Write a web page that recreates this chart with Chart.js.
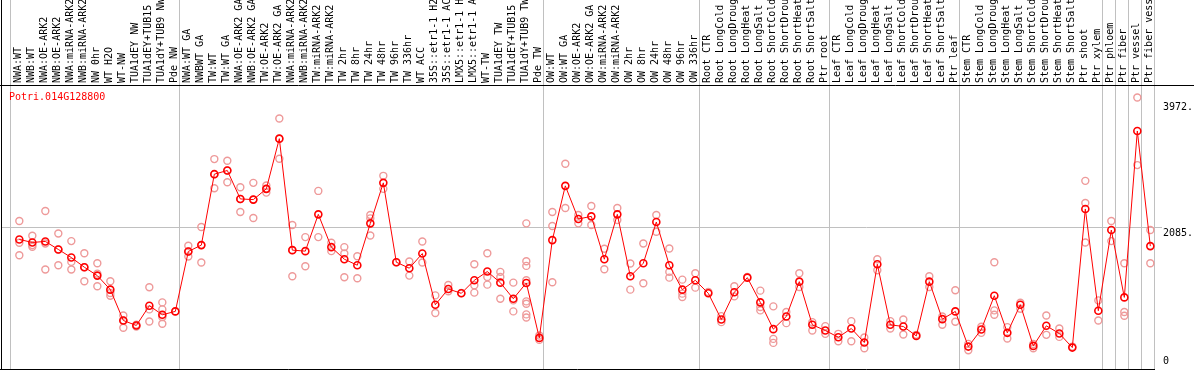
<!DOCTYPE html>
<html>
<head>
<meta charset="utf-8">
<script src="https://cdn.jsdelivr.net/npm/chart.js@4.4.1/dist/chart.umd.min.js"></script>
<style>
  html, body { margin: 0; padding: 0; background: #fff; }
  #wrap { width: 1194px; height: 370px; }
</style>
</head>
<body>
<div id="wrap"><canvas id="exprChart" width="1194" height="370"></canvas></div>
<script>
const geneName = 'Potri.014G128800';

const sampleLabels = [
    'NWA:WT', 'NWB:WT', 'NWA:OE-ARK2', 'NWB:OE-ARK2', 'NWA:miRNA-ARK2', 'NWB:miRNA-ARK2',
    'NW 0hr', 'WT H2O', 'WT-NW', 'TUA1dEY NW', 'TUA1dEY+TUB15', 'TUA1dY+TUB9 NW', 'Pde NW',
    'NWA:WT GA', 'NWBWT GA', 'TW:WT', 'TW:WT GA', 'NWA:OE-ARK2 GA', 'NWB:OE-ARK2 GA',
    'TW:OE-ARK2', 'TW:OE-ARK2 GA', 'NWA:miRNA-ARK2', 'NWB:miRNA-ARK2', 'TW:miRNA-ARK2',
    'TW:miRNA-ARK2', 'TW 2hr', 'TW 8hr', 'TW 24hr', 'TW 48hr', 'TW 96hr', 'TW 336hr', 'WT ACC',
    '35S::etr1-1 H2O', '35S::etr1-1 ACC', 'LMX5::etr1-1 H2O', 'LMX5::etr1-1 ACC', 'WT-TW',
    'TUA1dEY TW', 'TUA1dEY+TUB15', 'TUA1dY+TUB9 TW', 'Pde TW',
    'OW:WT', 'OW:WT GA', 'OW:OE-ARK2', 'OW:OE-ARK2 GA', 'OW:miRNA-ARK2', 'OW:miRNA-ARK2',
    'OW 2hr', 'OW 8hr', 'OW 24hr', 'OW 48hr', 'OW 96hr', 'OW 336hr',
    'Root CTR', 'Root LongCold', 'Root LongDrought', 'Root LongHeat', 'Root LongSalt',
    'Root ShortCold', 'Root ShortDrought', 'Root ShortHeat', 'Root ShortSalt', 'Ptr root',
    'Leaf CTR', 'Leaf LongCold', 'Leaf LongDrought', 'Leaf LongHeat', 'Leaf LongSalt',
    'Leaf ShortCold', 'Leaf ShortDrought', 'Leaf ShortHeat', 'Leaf ShortSalt', 'Ptr leaf',
    'Stem CTR', 'Stem LongCold', 'Stem LongDrought', 'Stem LongHeat', 'Stem LongSalt',
    'Stem ShortCold', 'Stem ShortDrought', 'Stem ShortHeat', 'Stem ShortSalt', 'Ptr shoot',
    'Ptr xylem', 'Ptr phloem', 'Ptr fiber', 'Ptr vessel', 'Ptr fiber vessel'
];

const meanValues = [
    1911, 1866, 1881, 1761, 1640, 1495, 1369, 1159, 697, 622, 918, 783, 833,
    1731, 1826, 2889, 2944, 2518, 2508, 2669, 3421, 1751, 1736, 2287, 1796, 1615,
    1525, 2152, 2759, 1570, 1480, 1700, 933, 1169, 1104, 1299, 1430, 1264, 1023, 1259, 436,
    1901, 2714, 2217, 2257, 1615, 2287, 1359, 1555, 2172, 1525, 1159, 1299,
    1104, 712, 1119, 1339, 968, 567, 757, 1279, 632, 547,
    446, 577, 366, 1540, 632, 607, 466, 1279, 717, 833,
    306, 562, 1068, 512, 933, 316, 617, 502, 291, 2368,
    843, 2052, 1043, 3536, 1811
];

const replicateValues = [
    [2187, 1861, 1675], [1966, 1826, 1801], [2337, 1851, 1460], [2001, 1761, 1525],
    [1886, 1575, 1460], [1705, 1495, 1284], [1555, 1399, 1209], [1284, 1109, 1068],
    [772, 587, 697], [632, 607], [1194, 863, 682], [968, 863, 747, 647], [833],
    [1816, 1731, 1655], [2097, 1826, 1565], [3115, 2889, 2679], [3090, 2944, 2769],
    [2694, 2518, 2322], [2759, 2508, 2232], [2719, 2669, 2613], [3722, 3421, 3120],
    [2127, 1751, 1359], [1946, 1510], [2638, 1946], [1861, 1736], [1796, 1700, 1344],
    [1660, 1329], [2277, 2227, 1971], [2864, 2669], [1570], [1580, 1369], [1881, 1565],
    [1073, 808], [1229, 1134], [1109], [1540, 1224, 1114], [1705, 1349, 1234],
    [1425, 1349, 1023], [1264, 998, 833], [2152, 1585, 1515, 1299, 983, 948, 788, 742],
    [472, 406],
    [2322, 2112, 1269], [3045, 2383], [2277, 2152], [2413, 2127], [1771, 1465],
    [2383, 2202], [1550, 1159], [1851, 1254], [2277, 2026], [1776, 1425, 1339],
    [1309, 1099, 1048], [1404, 1189],
    [1124], [762, 672], [1209, 1058], [1349], [1144, 898, 848], [908, 421, 361],
    [823, 657], [1404, 1199], [672, 547], [612, 497],
    [497, 386], [687, 386], [441, 281], [1615, 1450], [687, 577], [712, 487], [482],
    [1359, 1199], [757, 632], [1149, 677],
    [346, 251], [602, 512], [1570, 848, 783], [597, 426], [963, 873], [346, 281],
    [772, 482], [577, 451], [306], [2789, 2458, 1866],
    [998, 697], [2187, 1886], [1555, 823, 767], [4038, 3025], [2052, 1555]
];

// last sample index of each group, a grey separator follows it
const groupEnds = [-1, 12, 40, 52, 62, 72, 83, 84, 85, 86, 87];

const yTickValues = [0, 2085, 3972];
const yTickLabels = ['0', '2085.', '3972.'];

const monoFont = 'DejaVu Sans Mono';

const meanPoints = meanValues.map((v, i) => ({ x: i, y: v }));
const replicatePoints = [];
replicateValues.forEach((reps, i) => {
    reps.forEach(v => replicatePoints.push({ x: i, y: v }));
});

const framePlugin = {
    id: 'frame',
    beforeDatasetsDraw(chart) {
        const { ctx, chartArea, scales } = chart;
        ctx.save();
        ctx.strokeStyle = '#c0c0c0';
        ctx.lineWidth = 1;
        groupEnds.forEach(e => {
            const px = Math.round(scales.x.getPixelForValue(e + 0.36)) - 0.5;
            ctx.beginPath();
            ctx.moveTo(px, 0);
            ctx.lineTo(px, 370);
            ctx.stroke();
        });
        ctx.restore();
    },
    afterDraw(chart) {
        const { ctx, chartArea, scales } = chart;
        ctx.save();
        // black frame lines
        ctx.strokeStyle = '#000';
        ctx.lineWidth = 1;
        ctx.beginPath();
        ctx.moveTo(1.5, 0);
        ctx.lineTo(1.5, 370);
        ctx.moveTo(0, 85.5);
        ctx.lineTo(1194, 85.5);
        ctx.moveTo(0, 369.5);
        ctx.lineTo(chartArea.right, 369.5);
        ctx.stroke();

        // rotated sample labels in the header
        ctx.fillStyle = '#000';
        ctx.font = '10px "' + monoFont + '"';
        ctx.textAlign = 'left';
        ctx.textBaseline = 'middle';
        sampleLabels.forEach((label, i) => {
            const px = scales.x.getPixelForValue(i);
            ctx.save();
            ctx.translate(px - 1, 83);
            ctx.rotate(-Math.PI / 2);
            ctx.fillText(label, 0, 0);
            ctx.restore();
        });

        // gene name
        ctx.fillStyle = '#ff0000';
        ctx.fillText(geneName, 9, 97);
        ctx.restore();
    }
};

new Chart(document.getElementById('exprChart'), {
    type: 'line',
    data: {
        datasets: [{
            data: meanPoints,
            borderColor: '#ff0000',
            borderWidth: 1,
            pointRadius: 3.5,
            pointBorderWidth: 1.6,
            pointBorderColor: '#ff0000',
            pointBackgroundColor: 'rgba(0,0,0,0)',
            tension: 0,
            order: 0
        }, {
            type: 'scatter',
            data: replicatePoints,
            showLine: false,
            pointRadius: 3.5,
            pointBorderWidth: 1.4,
            pointBorderColor: '#ee9a9a',
            pointBackgroundColor: 'rgba(0,0,0,0)',
            order: 1
        }]
    },
    options: {
        responsive: false,
        animation: false,
        layout: { autoPadding: false, padding: { top: 86, left: 1, right: 0, bottom: 3 } },
        plugins: {
            legend: { display: false },
            tooltip: { enabled: false }
        },
        scales: {
            x: {
                type: 'linear',
                display: false,
                min: -1.41,
                max: 87.36
            },
            y: {
                position: 'right',
                min: 0,
                max: 4210,
                afterBuildTicks: scale => {
                    scale.ticks = yTickValues.map(v => ({ value: v }));
                },
                afterFit: scale => {
                    scale.width = 39;
                    scale.paddingTop = 0;
                    scale.paddingBottom = 0;
                },
                border: { display: false },
                grid: {
                    color: ctx => (ctx.tick && ctx.tick.value === 2085) ? '#c0c0c0' : 'rgba(0,0,0,0)',
                    tickLength: 7,
                    drawTicks: true
                },
                ticks: {
                    padding: 1,
                    color: '#000',
                    font: { family: monoFont, size: 10 },
                    callback: (value, index) => {
                        const text = yTickLabels[yTickValues.indexOf(value)];
                        return value === 0 ? [text, ''] : ['', text];
                    }
                }
            }
        }
    },
    plugins: [framePlugin]
});
</script>
</body>
</html>
